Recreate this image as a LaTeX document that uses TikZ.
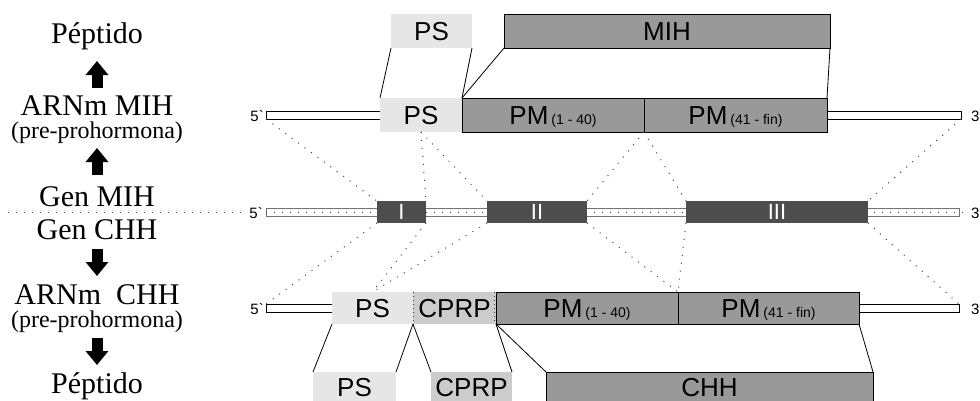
\documentclass[tikz,border=0pt]{standalone}
\usepackage{fontspec}
\setmainfont{Liberation Serif}
\newfontfamily\arialf{Liberation Sans}
\usetikzlibrary{arrows.meta,calc}
\definecolor{psc}{HTML}{E6E6E6}
\definecolor{cprpc}{HTML}{CCCCCC}
\definecolor{pmc}{HTML}{999999}
\definecolor{exc}{HTML}{4D4D4D}
\newcommand{\bigsans}{\arialf\fontsize{26}{26}\selectfont}
\newcommand{\smallpar}[1]{\hspace{3pt}{\fontsize{14}{14}\selectfont #1}}
\begin{document}
\begin{tikzpicture}[x=1pt,y=-1pt,
  box/.style={inner sep=0pt, outer sep=0pt, anchor=north west, font=\bigsans, text height=18.6pt, text depth=0pt},
  framed/.style={draw=black, line width=0.8pt},
  utr/.style={inner sep=0pt, outer sep=0pt, anchor=north west, draw=black, line width=0.7pt, fill=white, minimum height=8pt},
  exon/.style={inner sep=0pt, outer sep=0pt, anchor=north west, fill=exc, minimum height=22pt, text=white, font=\arialf\fontsize{22}{22}\selectfont, text height=15.8pt, text depth=0pt},
  endlabel/.style={font=\arialf\fontsize{15}{15}\selectfont, inner sep=0pt},
  lefttxt/.style={font=\fontsize{30}{30}\selectfont, anchor=base, inner sep=0pt},
  subtxt/.style={font=\fontsize{24}{24}\selectfont, anchor=base, inner sep=0pt},
  dotline/.style={line width=1pt, black!75, dash pattern=on 1pt off 7pt},
  solidline/.style={line width=0.8pt, black},
  blockarrow/.style={line width=11pt, -{Triangle[width=22pt,length=14pt]}, black}
]
\useasboundingbox (0,0) rectangle (980,400);

% ---------- left column ----------
\node[lefttxt] (pepA) at (97,43) {Péptido};
\node[lefttxt] (arnA) at (97,115) {ARNm MIH};
\node[subtxt] (preA) at (97,138) {(pre-prohormona)};
\node[lefttxt] (genA) at (97,206) {Gen MIH};
\node[lefttxt] (genB) at (97,239) {Gen CHH};
\node[lefttxt] (arnB) at (97,304) {ARNm\ \ CHH};
\node[subtxt] (preB) at (97,327) {(pre-prohormona)};
\node[lefttxt] (pepB) at (97,393) {Péptido};
\coordinate (a1s) at (97,88);  \coordinate (a1e) at (97,61);
\coordinate (a2s) at (97,175); \coordinate (a2e) at (97,148);
\coordinate (a3s) at (97,249); \coordinate (a3e) at (97,276);
\coordinate (a4s) at (97,338); \coordinate (a4e) at (97,365);
\draw[blockarrow] (a1s) -- (a1e);
\draw[blockarrow] (a2s) -- (a2e);
\draw[blockarrow] (a3s) -- (a3e);
\draw[blockarrow] (a4s) -- (a4e);

% ---------- top peptide (MIH) ----------
\node[box, fill=psc, minimum width=81pt, minimum height=34pt] (psT) at (391,14) {PS};
\node[box, framed, fill=pmc, minimum width=326pt, minimum height=34pt] (mihT) at (504,14) {MIH};

% ---------- MIH mRNA ----------
\node[utr, minimum width=114pt] (u5A) at (266,111) {};
\node[box, fill=psc, minimum width=82pt, minimum height=34pt] (psA) at (380,98) {PS};
\node[box, framed, fill=pmc, minimum width=182pt, minimum height=34pt] (pm1A) at (462,98) {PM\smallpar{(1 - 40)}};
\node[box, framed, fill=pmc, minimum width=183pt, minimum height=34pt] (pm2A) at (644,98) {PM\smallpar{(41 - fin)}};
\node[utr, minimum width=134pt] (u3A) at (827,111) {};
\node[endlabel, anchor=base east] (l5A) at (264,121) {5`};
\node[endlabel, anchor=base west] (l3A) at (971,121) {3`};

% ---------- gene ----------
\draw[dotline] (8,212) -- (241,212);
\node[utr, draw=black!55, minimum width=693pt] (gbar) at (266,208) {};
\draw[dotline] (gbar.west) -- (968,212);
\node[exon, minimum width=49pt] (e1) at (377,201) {I};
\node[exon, minimum width=100pt] (e2) at (487,201) {II};
\node[exon, minimum width=182pt] (e3) at (686,201) {III};
\node[endlabel, anchor=base east] (l5G) at (263,218) {5`};
\node[endlabel, anchor=base west] (l3G) at (971,218) {3`};

% ---------- CHH mRNA ----------
\node[utr, minimum width=66pt] (u5B) at (266,304) {};
\node[box, fill=psc, minimum width=81pt, minimum height=32pt] (psB) at (332,292) {PS};
\node[box, fill=cprpc, minimum width=83pt, minimum height=32pt] (cprpB) at (413,292) {CPRP};
\node[box, framed, fill=pmc, minimum width=182pt, minimum height=32pt] (pm1B) at (496,292) {PM\smallpar{(1 - 40)}};
\node[box, framed, fill=pmc, minimum width=181pt, minimum height=32pt] (pm2B) at (678,292) {PM\smallpar{(41 - fin)}};
\node[utr, minimum width=100pt] (u3B) at (859,304) {};
\node[endlabel, anchor=base east] (l5B) at (264,314) {5`};
\node[endlabel, anchor=base west] (l3B) at (971,314) {3`};
\draw[dotline, line width=0.8pt, dash pattern=on 1pt off 3pt] (cprpB.north west) -- (cprpB.south west);
\draw[dotline, line width=0.8pt, dash pattern=on 1pt off 3pt] ([xshift=-1.5pt]cprpB.north east) -- ([xshift=-1.5pt]cprpB.south east);

% ---------- bottom peptide (CHH) ----------
\node[box, fill=psc, minimum width=83pt, minimum height=30pt] (psC) at (313,372) {PS};
\node[box, fill=cprpc, minimum width=81pt, minimum height=30pt] (cprpC) at (431,372) {CPRP};
\node[box, framed, fill=pmc, minimum width=327pt, minimum height=30pt] (chhC) at (546,372) {CHH};

% ---------- solid connectors ----------
\draw[solidline] (psT.south west) -- (psA.north west);
\draw[solidline] (psT.south east) -- (psA.north east);
\draw[solidline] (mihT.south west) -- (pm1A.north west);
\draw[solidline] (mihT.south east) -- (pm2A.north east);
\draw[solidline] (psB.south west) -- (psC.north west);
\draw[solidline] (psB.south east) -- (psC.north east);
\draw[solidline] (cprpB.south west) -- (cprpC.north west);
\draw[solidline] (cprpB.south east) -- (cprpC.north east);
\draw[solidline] (pm1B.south west) -- (chhC.north west);
\draw[solidline] (pm2B.south east) -- (chhC.north east);

% ---------- dotted connectors mRNA MIH -> gene ----------
\draw[dotline] (u5A.south west) -- (e1.north west);
\draw[dotline] (psA.south) -- (e1.north east);
\draw[dotline] (psA.south) -- (e2.north west);
\draw[dotline] (pm1A.south east) -- (e2.north east);
\draw[dotline] (pm1A.south east) -- (e3.north west);
\draw[dotline] (u3A.south east) -- (e3.north east);

% ---------- dotted connectors gene -> mRNA CHH ----------
\draw[dotline] (e1.south west) -- (u5B.north west);
\draw[dotline] (e1.south east) -- (psB.north);
\draw[dotline] (e2.south west) -- (psB.north);
\draw[dotline] (e2.south east) -- (pm1B.north east);
\draw[dotline] (e3.south west) -- (pm1B.north east);
\draw[dotline] (e3.south east) -- (u3B.north east);
\end{tikzpicture}
\end{document}
